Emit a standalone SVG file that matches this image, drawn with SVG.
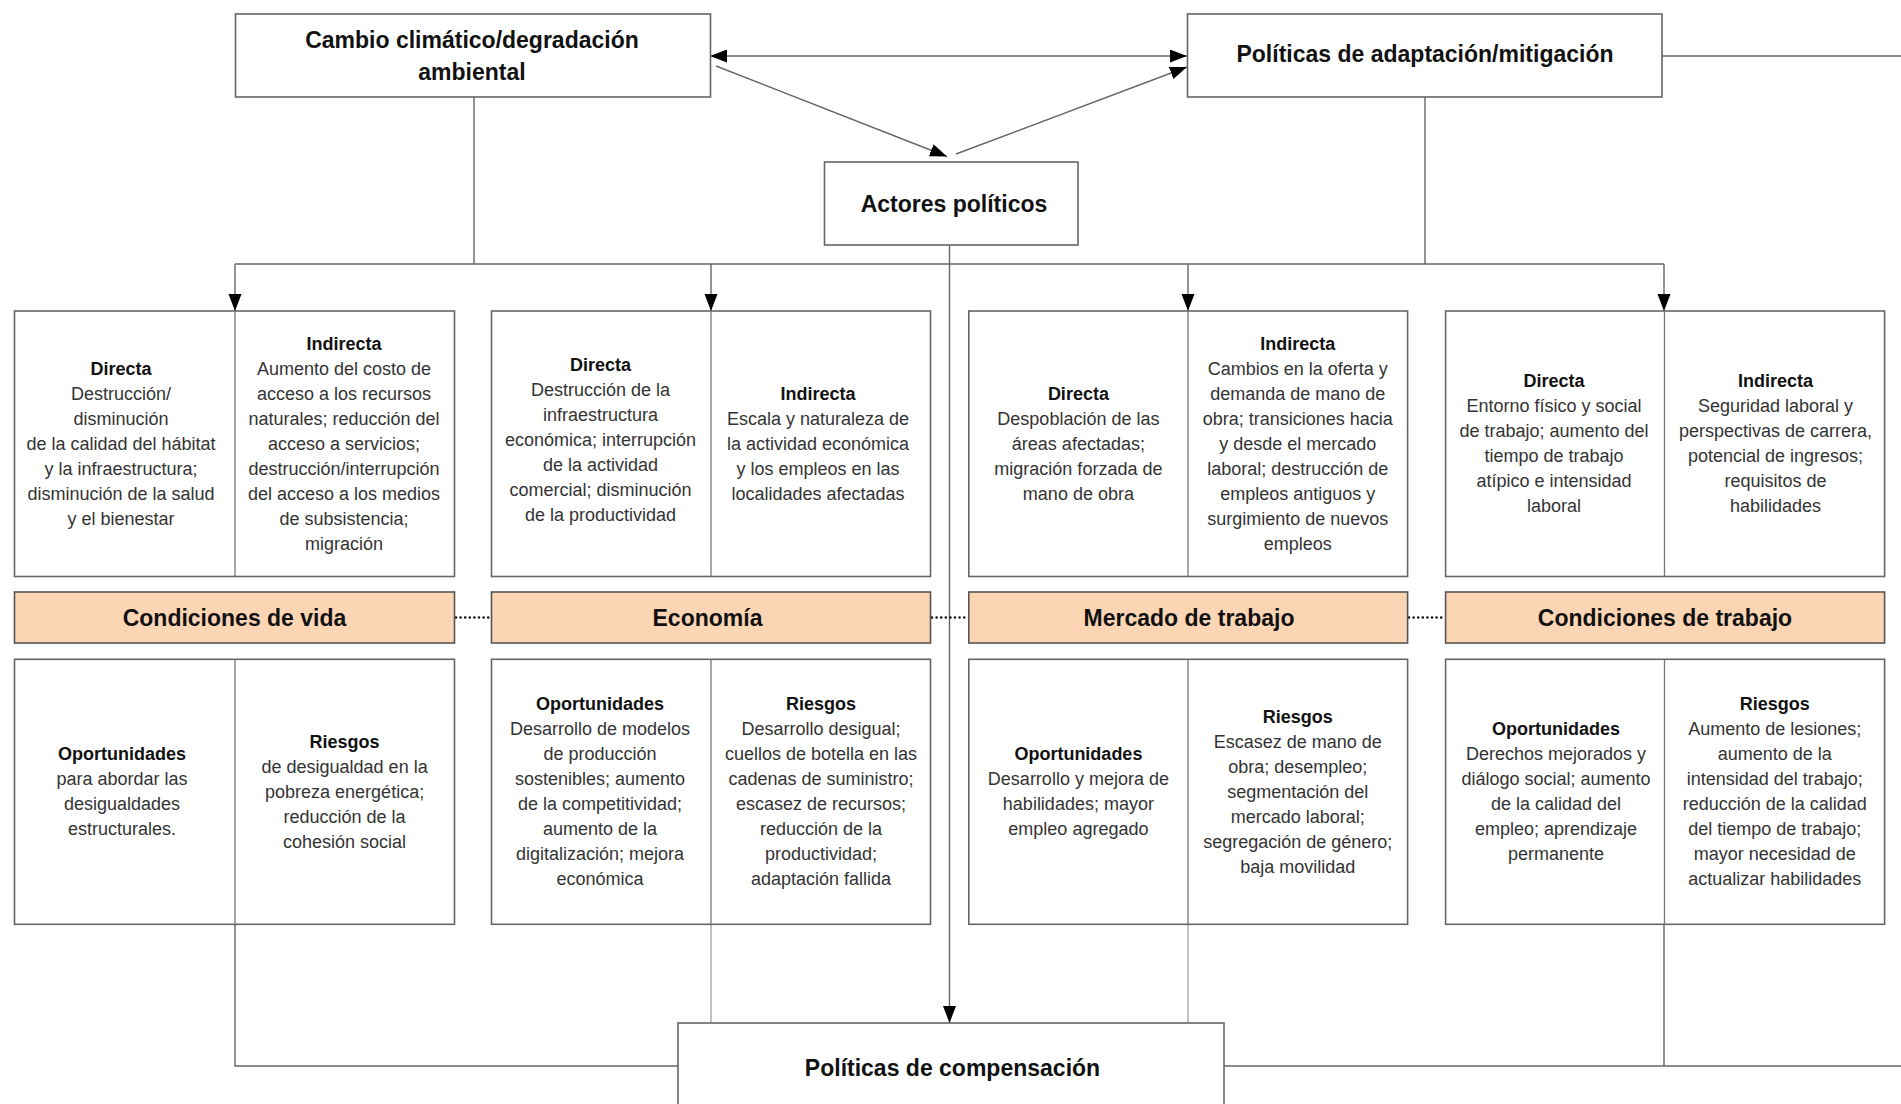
<svg xmlns="http://www.w3.org/2000/svg" width="1901" height="1104" viewBox="0 0 1901 1104">
<style>
.box{fill:#fff;stroke:#666;stroke-width:1.6}
.div{stroke:#777;stroke-width:1.3}
.bar{fill:#fcd5b5;stroke:#555;stroke-width:1.6}
.hdr{font-family:"Liberation Sans",Arial,sans-serif;font-weight:bold;font-size:23px;fill:#111;text-anchor:middle}
.t{font-family:"Liberation Sans",Arial,sans-serif;font-size:18px;fill:#333;text-anchor:middle}
.t .b{font-weight:bold;fill:#111}
.ln{fill:none;stroke:#666;stroke-width:1.4}
.lt{fill:none;stroke:#999;stroke-width:1.2}
.dot{fill:none;stroke:#111;stroke-width:2.6;stroke-dasharray:0 4.6;stroke-linecap:round}
</style>
<defs>
<marker id="ah" markerUnits="userSpaceOnUse" markerWidth="18" markerHeight="14" refX="17" refY="6.5" orient="auto">
<path d="M0,0 L17,6.5 L0,13 Z" fill="#000"/>
</marker>
<marker id="as" markerUnits="userSpaceOnUse" markerWidth="18" markerHeight="14" refX="0" refY="6.5" orient="auto">
<path d="M17,0 L0,6.5 L17,13 Z" fill="#000"/>
</marker>
</defs>
<rect width="1901" height="1104" fill="#fff"/>

<g id="connectors">
<line class="ln" x1="710" y1="56" x2="1187" y2="56" marker-start="url(#as)" marker-end="url(#ah)"/>
<line class="ln" x1="716" y1="66" x2="947" y2="156.5" marker-end="url(#ah)"/>
<line class="ln" x1="956" y1="154" x2="1187" y2="67" marker-end="url(#ah)"/>
<line class="ln" x1="1662" y1="56" x2="1901" y2="56"/>
<line class="ln" x1="474" y1="97" x2="474" y2="264"/>
<line class="ln" x1="1425" y1="97" x2="1425" y2="264"/>
<line class="ln" x1="235" y1="264" x2="1664" y2="264"/>
<line class="ln" x1="235" y1="264" x2="235" y2="311" marker-end="url(#ah)"/>
<line class="ln" x1="711" y1="264" x2="711" y2="311" marker-end="url(#ah)"/>
<line class="ln" x1="1188" y1="264" x2="1188" y2="311" marker-end="url(#ah)"/>
<line class="ln" x1="1664" y1="264" x2="1664" y2="311" marker-end="url(#ah)"/>
<line class="ln" x1="949.5" y1="245" x2="949.5" y2="1023" marker-end="url(#ah)"/>
<line class="dot" x1="456" y1="617.5" x2="491" y2="617.5"/>
<line class="dot" x1="932" y1="617.5" x2="968" y2="617.5"/>
<line class="dot" x1="1409" y1="617.5" x2="1445" y2="617.5"/>
<polyline class="ln" points="235,924 235,1066 678,1066"/>
<line class="ln" x1="1224" y1="1066" x2="1901" y2="1066"/>
<line class="ln" x1="1664" y1="924" x2="1664" y2="1066"/>
<line class="lt" x1="711" y1="924" x2="711" y2="1023"/>
<line class="lt" x1="1188" y1="924" x2="1188" y2="1023"/>
</g>

<g id="cambio">
<rect class="box" x="235.5" y="14" width="475" height="83"/>
<text class="hdr" x="472" y="48">Cambio climático/degradación<tspan x="472" dy="31.5">ambiental</tspan></text>
</g>
<g id="politicas-adaptacion">
<rect class="box" x="1187.5" y="14" width="474.5" height="83"/>
<text class="hdr" x="1425" y="62">Políticas de adaptación/mitigación</text>
</g>
<g id="actores">
<rect class="box" x="824.5" y="162" width="253.5" height="83"/>
<text class="hdr" x="954" y="212">Actores políticos</text>
</g>
<g id="compensacion">
<rect class="box" x="678" y="1023" width="546" height="90"/>
<text class="hdr" x="952.5" y="1076">Políticas de compensación</text>
</g>

<g id="vida-efectos">
<rect class="box" x="14.5" y="311" width="440" height="265.5"/>
<line class="div" x1="235" y1="311" x2="235" y2="576.5"/>
<text class="t" x="121" y="374.5"><tspan class="b">Directa</tspan><tspan x="121" dy="25">Destrucción/</tspan><tspan x="121" dy="25">disminución</tspan><tspan x="121" dy="25">de la calidad del hábitat</tspan><tspan x="121" dy="25">y la infraestructura;</tspan><tspan x="121" dy="25">disminución de la salud</tspan><tspan x="121" dy="25">y el bienestar</tspan></text>
<text class="t" x="344" y="349.5"><tspan class="b">Indirecta</tspan><tspan x="344" dy="25">Aumento del costo de</tspan><tspan x="344" dy="25">acceso a los recursos</tspan><tspan x="344" dy="25">naturales; reducción del</tspan><tspan x="344" dy="25">acceso a servicios;</tspan><tspan x="344" dy="25">destrucción/interrupción</tspan><tspan x="344" dy="25">del acceso a los medios</tspan><tspan x="344" dy="25">de subsistencia;</tspan><tspan x="344" dy="25">migración</tspan></text>
</g>
<g id="economia-efectos">
<rect class="box" x="491.5" y="311" width="439" height="265.5"/>
<line class="div" x1="711" y1="311" x2="711" y2="576.5"/>
<text class="t" x="600.5" y="371"><tspan class="b">Directa</tspan><tspan x="600.5" dy="25">Destrucción de la</tspan><tspan x="600.5" dy="25">infraestructura</tspan><tspan x="600.5" dy="25">económica; interrupción</tspan><tspan x="600.5" dy="25">de la actividad</tspan><tspan x="600.5" dy="25">comercial; disminución</tspan><tspan x="600.5" dy="25">de la productividad</tspan></text>
<text class="t" x="818" y="399.5"><tspan class="b">Indirecta</tspan><tspan x="818" dy="25">Escala y naturaleza de</tspan><tspan x="818" dy="25">la actividad económica</tspan><tspan x="818" dy="25">y los empleos en las</tspan><tspan x="818" dy="25">localidades afectadas</tspan></text>
</g>
<g id="mercado-efectos">
<rect class="box" x="968.8" y="311" width="438.8" height="265.5"/>
<line class="div" x1="1188" y1="311" x2="1188" y2="576.5"/>
<text class="t" x="1078.4" y="399.5"><tspan class="b">Directa</tspan><tspan x="1078.4" dy="25">Despoblación de las</tspan><tspan x="1078.4" dy="25">áreas afectadas;</tspan><tspan x="1078.4" dy="25">migración forzada de</tspan><tspan x="1078.4" dy="25">mano de obra</tspan></text>
<text class="t" x="1297.8" y="349.5"><tspan class="b">Indirecta</tspan><tspan x="1297.8" dy="25">Cambios en la oferta y</tspan><tspan x="1297.8" dy="25">demanda de mano de</tspan><tspan x="1297.8" dy="25">obra; transiciones hacia</tspan><tspan x="1297.8" dy="25">y desde el mercado</tspan><tspan x="1297.8" dy="25">laboral; destrucción de</tspan><tspan x="1297.8" dy="25">empleos antiguos y</tspan><tspan x="1297.8" dy="25">surgimiento de nuevos</tspan><tspan x="1297.8" dy="25">empleos</tspan></text>
</g>
<g id="trabajo-efectos">
<rect class="box" x="1445.6" y="311" width="439" height="265.5"/>
<line class="div" x1="1664.5" y1="311" x2="1664.5" y2="576.5"/>
<text class="t" x="1554" y="387"><tspan class="b">Directa</tspan><tspan x="1554" dy="25">Entorno físico y social</tspan><tspan x="1554" dy="25">de trabajo; aumento del</tspan><tspan x="1554" dy="25">tiempo de trabajo</tspan><tspan x="1554" dy="25">atípico e intensidad</tspan><tspan x="1554" dy="25">laboral</tspan></text>
<text class="t" x="1775.5" y="387"><tspan class="b">Indirecta</tspan><tspan x="1775.5" dy="25">Seguridad laboral y</tspan><tspan x="1775.5" dy="25">perspectivas de carrera,</tspan><tspan x="1775.5" dy="25">potencial de ingresos;</tspan><tspan x="1775.5" dy="25">requisitos de</tspan><tspan x="1775.5" dy="25">habilidades</tspan></text>
</g>

<g id="bar-vida">
<rect class="bar" x="14.5" y="592" width="440" height="51"/>
<text class="hdr" x="234.5" y="625.5">Condiciones de vida</text>
</g>
<g id="bar-economia">
<rect class="bar" x="491.5" y="592" width="439" height="51"/>
<text class="hdr" x="707.5" y="625.5">Economía</text>
</g>
<g id="bar-mercado">
<rect class="bar" x="968.8" y="592" width="438.8" height="51"/>
<text class="hdr" x="1189" y="625.5">Mercado de trabajo</text>
</g>
<g id="bar-trabajo">
<rect class="bar" x="1445.6" y="592" width="439" height="51"/>
<text class="hdr" x="1665" y="625.5">Condiciones de trabajo</text>
</g>

<g id="vida-resultados">
<rect class="box" x="14.5" y="659.3" width="440" height="265"/>
<line class="div" x1="235" y1="659.3" x2="235" y2="924.3"/>
<text class="t" x="122" y="760"><tspan class="b">Oportunidades</tspan><tspan x="122" dy="25">para abordar las</tspan><tspan x="122" dy="25">desigualdades</tspan><tspan x="122" dy="25">estructurales.</tspan></text>
<text class="t" x="344.6" y="747.5"><tspan class="b">Riesgos</tspan><tspan x="344.6" dy="25">de desigualdad en la</tspan><tspan x="344.6" dy="25">pobreza energética;</tspan><tspan x="344.6" dy="25">reducción de la</tspan><tspan x="344.6" dy="25">cohesión social</tspan></text>
</g>
<g id="economia-resultados">
<rect class="box" x="491.5" y="659.3" width="439" height="265"/>
<line class="div" x1="711" y1="659.3" x2="711" y2="924.3"/>
<text class="t" x="600" y="710"><tspan class="b">Oportunidades</tspan><tspan x="600" dy="25">Desarrollo de modelos</tspan><tspan x="600" dy="25">de producción</tspan><tspan x="600" dy="25">sostenibles; aumento</tspan><tspan x="600" dy="25">de la competitividad;</tspan><tspan x="600" dy="25">aumento de la</tspan><tspan x="600" dy="25">digitalización; mejora</tspan><tspan x="600" dy="25">económica</tspan></text>
<text class="t" x="821" y="710"><tspan class="b">Riesgos</tspan><tspan x="821" dy="25">Desarrollo desigual;</tspan><tspan x="821" dy="25">cuellos de botella en las</tspan><tspan x="821" dy="25">cadenas de suministro;</tspan><tspan x="821" dy="25">escasez de recursos;</tspan><tspan x="821" dy="25">reducción de la</tspan><tspan x="821" dy="25">productividad;</tspan><tspan x="821" dy="25">adaptación fallida</tspan></text>
</g>
<g id="mercado-resultados">
<rect class="box" x="968.8" y="659.3" width="438.8" height="265"/>
<line class="div" x1="1188" y1="659.3" x2="1188" y2="924.3"/>
<text class="t" x="1078.4" y="760"><tspan class="b">Oportunidades</tspan><tspan x="1078.4" dy="25">Desarrollo y mejora de</tspan><tspan x="1078.4" dy="25">habilidades; mayor</tspan><tspan x="1078.4" dy="25">empleo agregado</tspan></text>
<text class="t" x="1297.8" y="722.5"><tspan class="b">Riesgos</tspan><tspan x="1297.8" dy="25">Escasez de mano de</tspan><tspan x="1297.8" dy="25">obra; desempleo;</tspan><tspan x="1297.8" dy="25">segmentación del</tspan><tspan x="1297.8" dy="25">mercado laboral;</tspan><tspan x="1297.8" dy="25">segregación de género;</tspan><tspan x="1297.8" dy="25">baja movilidad</tspan></text>
</g>
<g id="trabajo-resultados">
<rect class="box" x="1445.6" y="659.3" width="439" height="265"/>
<line class="div" x1="1664.5" y1="659.3" x2="1664.5" y2="924.3"/>
<text class="t" x="1556" y="735"><tspan class="b">Oportunidades</tspan><tspan x="1556" dy="25">Derechos mejorados y</tspan><tspan x="1556" dy="25">diálogo social; aumento</tspan><tspan x="1556" dy="25">de la calidad del</tspan><tspan x="1556" dy="25">empleo; aprendizaje</tspan><tspan x="1556" dy="25">permanente</tspan></text>
<text class="t" x="1774.8" y="710"><tspan class="b">Riesgos</tspan><tspan x="1774.8" dy="25">Aumento de lesiones;</tspan><tspan x="1774.8" dy="25">aumento de la</tspan><tspan x="1774.8" dy="25">intensidad del trabajo;</tspan><tspan x="1774.8" dy="25">reducción de la calidad</tspan><tspan x="1774.8" dy="25">del tiempo de trabajo;</tspan><tspan x="1774.8" dy="25">mayor necesidad de</tspan><tspan x="1774.8" dy="25">actualizar habilidades</tspan></text>
</g>
</svg>
